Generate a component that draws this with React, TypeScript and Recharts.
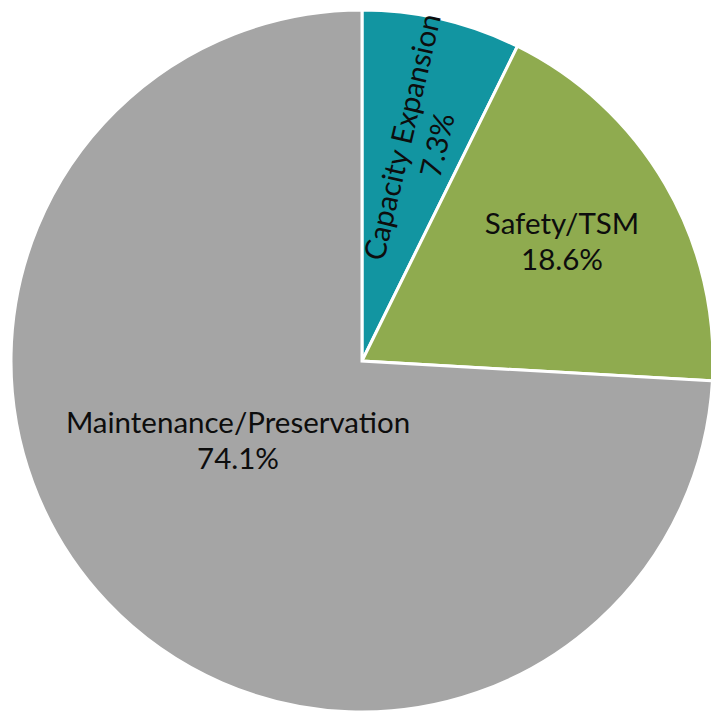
import { Cell, Pie, PieChart } from "recharts";

const categories = ["Capacity Expansion", "Safety/TSM", "Maintenance/Preservation"];
const shares = [7.3, 18.6, 74.1];
const sliceColors = ["#1295a1", "#8fab4f", "#a5a5a5"];

const data = categories.map((name, i) => ({ name, value: shares[i] }));

// label placement: radius factor, angle nudge (deg), and whether the text follows the radius
const labelPlacement: Record<string, { rf: number; da: number; radial: boolean }> = {
  "Capacity Expansion": { rf: 0.648, da: -1.6, radial: true },
  "Safety/TSM": { rf: 0.663, da: 0.5, radial: false },
  "Maintenance/Preservation": { rf: 0.42, da: -10.6, radial: false },
};

const RAD = Math.PI / 180;
const FONT = "Lato, 'Open Sans', sans-serif";
const FONT_SIZE = 29.5;
const LINE = 36;

function renderLabel(props: any) {
  const { cx, cy, midAngle, outerRadius, index } = props;
  const name = categories[index];
  const p = labelPlacement[name];
  const a = midAngle + p.da;
  const r = outerRadius * p.rf;
  const x = cx + r * Math.cos(-a * RAD);
  const y = cy + r * Math.sin(-a * RAD);
  const rot = p.radial ? -midAngle : 0;
  return (
    <text
      key={name}
      x={x}
      y={y}
      textAnchor="middle"
      fill="#0d0d0d"
      fontFamily={FONT}
      fontSize={FONT_SIZE}
      transform={`rotate(${rot}, ${x}, ${y})`}
    >
      <tspan x={x} dy={-LINE / 2 + FONT_SIZE * 0.35}>
        {name}
      </tspan>
      <tspan x={x} dy={LINE}>
        {`${shares[index].toFixed(1)}%`}
      </tspan>
    </text>
  );
}

export default function App() {
  return (
    <div style={{ position: "absolute", left: 0, top: 0, width: 711, height: 713, background: "#fff" }}>
      <PieChart width={711} height={713} margin={{ top: 0, right: 0, bottom: 0, left: 0 }}>
        <Pie
          data={data}
          dataKey="value"
          nameKey="name"
          cx={362}
          cy={361}
          outerRadius={351}
          startAngle={90}
          endAngle={-270}
          stroke="#ffffff"
          strokeWidth={3}
          label={renderLabel}
          labelLine={false}
          isAnimationActive={false}
        >
          {data.map((entry, i) => (
            <Cell key={entry.name} fill={sliceColors[i]} />
          ))}
        </Pie>
      </PieChart>
    </div>
  );
}
